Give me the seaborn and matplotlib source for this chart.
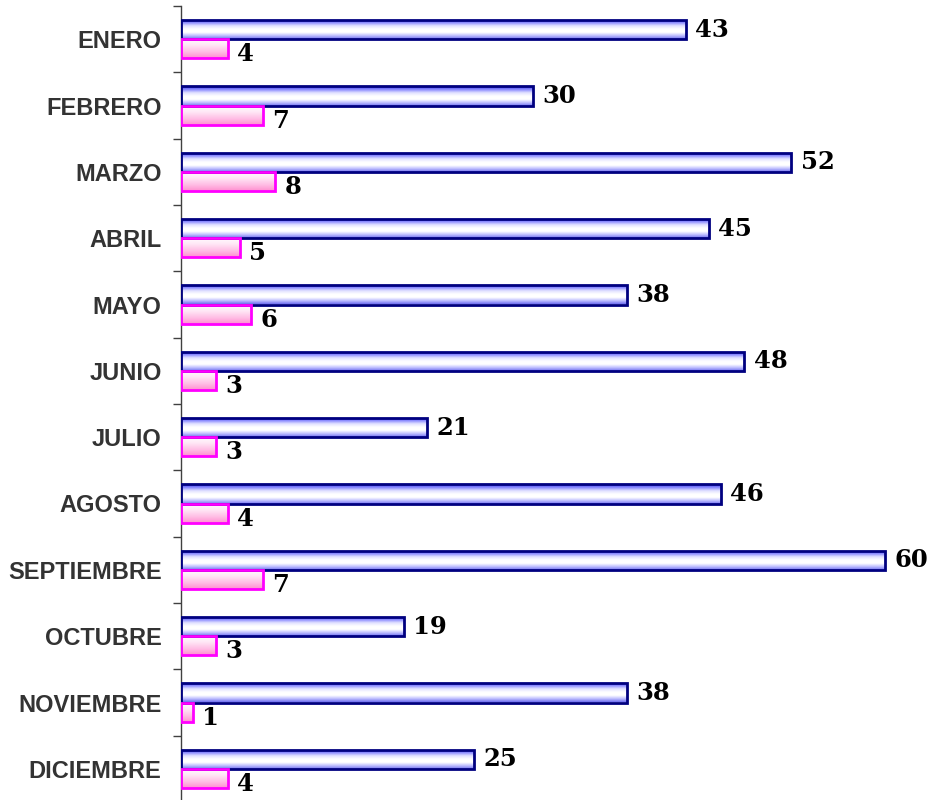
import numpy as np
import pandas as pd
import matplotlib
matplotlib.use('Agg')
import matplotlib.pyplot as plt
from matplotlib.colors import LinearSegmentedColormap
import seaborn as sns

# =====================================================
# DATA
# =====================================================
meses = ['ENERO', 'FEBRERO', 'MARZO', 'ABRIL', 'MAYO', 'JUNIO', 'JULIO',
         'AGOSTO', 'SEPTIEMBRE', 'OCTUBRE', 'NOVIEMBRE', 'DICIEMBRE']
serie_azul = [43, 30, 52, 45, 38, 48, 21, 46, 60, 19, 38, 25]
serie_rosa = [4, 7, 8, 5, 6, 3, 3, 4, 7, 3, 1, 4]

df = pd.DataFrame({
    'mes': meses * 2,
    'valor': serie_azul + serie_rosa,
    'serie': ['azul'] * len(meses) + ['rosa'] * len(meses),
})

sns.set_theme(style='white')

# =====================================================
# PLOT
# =====================================================
fig = plt.figure(figsize=(9.33, 8), dpi=100)
ax = fig.add_axes([181 / 933, -2 / 800, 1 - 181 / 933 - 0.001, 796 / 800])

sns.barplot(
    ax=ax, data=df, y='mes', x='valor', hue='serie', orient='h',
    palette={'azul': '#9090ff', 'rosa': '#ffb0e0'},
    width=0.58, gap=0, legend=False, saturation=1,
)

# gradient fills clipped to the bars
cmap_azul = LinearSegmentedColormap.from_list(
    'azul', ['#3a3ae8', '#8a8aff', '#e0e0ff', '#ffffff', '#ffffff', '#c0c0ff', '#7070f0'])
cmap_rosa = LinearSegmentedColormap.from_list(
    'rosa', ['#ffffff', '#ffe8f6', '#ffc0e6', '#ff90d0'])
grad = np.linspace(0, 1, 64).reshape(-1, 1)

for cont, cmap, edge in [(ax.containers[0], cmap_azul, '#000080'),
                         (ax.containers[1], cmap_rosa, '#ff00ff')]:
    for p in cont:
        x0, y0 = p.get_x(), p.get_y()
        w, h = p.get_width(), p.get_height()
        im = ax.imshow(grad, cmap=cmap, aspect='auto',
                       extent=(x0, x0 + w, y0 + h, y0), zorder=2,
                       interpolation='bilinear')
        im.set_clip_path(p)
        p.set_facecolor('none')
        p.set_edgecolor(edge)
        p.set_linewidth(2)
        p.set_zorder(3)

ax.set_xlim(0, 64)
ax.set_ylim(len(meses) - 0.5, -0.5)

# value labels
lab_font = dict(family='DejaVu Serif', weight='bold', size=17.5, color='black')
for i, (a, r) in enumerate(zip(serie_azul, serie_rosa)):
    ax.text(a + 0.8, i - 0.145, str(a), ha='left', va='center', **lab_font)
    ax.text(r + 0.8, i + 0.23, str(r), ha='left', va='center', **lab_font)

# axes styling
for s in ['top', 'right', 'bottom']:
    ax.spines[s].set_visible(False)
ax.spines['left'].set_color('#404040')
ax.spines['left'].set_linewidth(1)
ax.set_xticks([])
ax.set_xlabel('')
ax.set_ylabel('')
ax.set_yticks(range(len(meses)))
ax.set_yticklabels(meses, fontdict=dict(family='Liberation Sans', weight='bold', size=17))
ax.set_yticks(np.arange(len(meses) + 1) - 0.5, minor=True)
ax.tick_params(axis='y', which='major', length=0, pad=14, labelcolor='#333333')
ax.tick_params(axis='y', which='minor', length=6, width=1, color='#404040', left=True, direction='out')

fig.savefig('out.png', dpi=100)
plt.close()
